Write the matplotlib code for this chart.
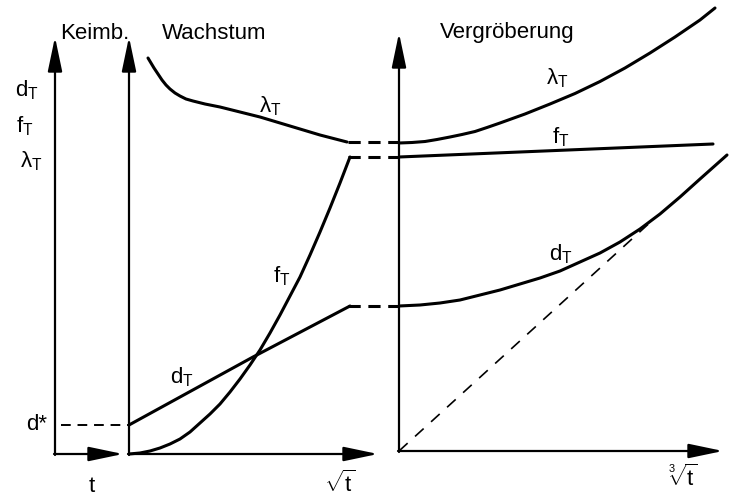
import matplotlib.pyplot as plt
import numpy as np

plt.rcParams['font.family'] = ['Liberation Sans', 'DejaVu Sans']
plt.rcParams['mathtext.fontset'] = 'custom'
plt.rcParams['mathtext.rm'] = 'Liberation Sans'
plt.rcParams['mathtext.it'] = 'Liberation Sans'

# Wachstum: curves in the middle panel
lam_w_x = [148, 151, 154, 158, 162, 166, 170, 175, 180, 186, 193, 205, 220,
           240, 260, 280, 300, 320, 347]
lam_w_y = [58, 63, 68, 74, 80, 85, 89, 93, 96, 99, 101, 104, 107,
           112, 117, 123, 129, 135, 142]
f_w_x = [129, 140, 150, 160, 170, 180, 190, 200, 210, 220, 230, 240, 250,
         260, 270, 280, 290, 300, 310, 320, 330, 340, 350]
f_w_y = [454, 453, 451, 448, 444, 439, 432, 423, 414, 404, 392, 379, 365,
         350, 333, 315, 296, 277, 255, 232, 208, 183, 157]
d_w_x = [129, 253, 350]
d_w_y = [425, 357, 306]

# Vergröberung: curves in the right panel
lam_v_x = [399, 412, 425, 437, 450, 462, 475, 487, 500, 525, 550, 575, 600,
           625, 650, 675, 700, 715]
lam_v_y = [143, 142.5, 141.5, 139.5, 137, 134.5, 131.5, 127.5, 123, 114, 104,
           93.5, 81.5, 68, 53, 37, 20, 8]
f_v_x = [399, 713]
f_v_y = [157, 144]
d_v_x = [399, 420, 440, 460, 480, 500, 520, 540, 560, 580, 600, 620, 640,
         660, 680, 700, 727]
d_v_y = [306, 305, 303, 300, 295, 290, 284, 278, 271, 262, 253, 242, 229,
         214, 197, 179, 155]
asym_x = [399, 655]
asym_y = [451, 218]

# dashed transitions between the two stages
gap_x = [348, 399]
gap_lam = 142
gap_f = 157
gap_d = 306
d_star = 425

fig = plt.figure(figsize=(7.29, 5.01), dpi=100)
ax = fig.add_axes([0, 0, 1, 1])
ax.set_xlim(0, 729)
ax.set_ylim(501, 0)
ax.axis('off')

def arrow(x0, y0, x1, y1):
    ax.annotate('', xy=(x1, y1), xytext=(x0, y0),
                arrowprops=dict(arrowstyle='-|>,head_length=1.05,head_width=0.22',
                                mutation_scale=20, lw=1.6, color='black',
                                shrinkA=0, shrinkB=0))

# axes
arrow(55, 455, 55, 37)
arrow(54, 454, 123, 454)
arrow(129, 455, 129, 37)
arrow(128, 454, 378, 454)
arrow(399, 452, 399, 33)
arrow(398, 451, 723, 451)

lw = 2.2
for xs, ys in [(lam_w_x, lam_w_y), (f_w_x, f_w_y), (d_w_x, d_w_y),
               (lam_v_x, lam_v_y), (f_v_x, f_v_y), (d_v_x, d_v_y)]:
    ax.plot(xs, ys, color='black', lw=lw, solid_joinstyle='round',
            solid_capstyle='round')

for yv in (gap_lam, gap_f, gap_d):
    ax.plot(gap_x, [yv, yv], color='black', lw=lw, dashes=(4, 2.5))
ax.plot(asym_x, asym_y, color='black', lw=1.2, dashes=(7, 6))
ax.plot([61, 128], [d_star, d_star], color='black', lw=1.4, dashes=(5, 3.5))

fs = 16
ax.text(60, 33, 'Keimb.', fontsize=fs, va='center', ha='left')
ax.text(162, 33, 'Wachstum', fontsize=fs, va='center', ha='left')
ax.text(440, 32, 'Vergröberung', fontsize=fs, va='center', ha='left')

ax.text(15, 90, r'd$_\mathrm{T}$', fontsize=fs, va='center', ha='left')
ax.text(16, 126, r'f$_\mathrm{T}$', fontsize=fs, va='center', ha='left')
ax.text(20, 161, r'$\lambda_\mathrm{T}$', fontsize=fs, va='center', ha='left')

ax.text(270, 106, r'$\lambda_\mathrm{T}$', fontsize=fs, va='center', ha='center')
ax.text(282, 276, r'f$_\mathrm{T}$', fontsize=fs, va='center', ha='center')
ax.text(182, 377, r'd$_\mathrm{T}$', fontsize=fs, va='center', ha='center')
ax.text(557, 78, r'$\lambda_\mathrm{T}$', fontsize=fs, va='center', ha='center')
ax.text(561, 137, r'f$_\mathrm{T}$', fontsize=fs, va='center', ha='center')
ax.text(561, 254, r'd$_\mathrm{T}$', fontsize=fs, va='center', ha='center')

ax.text(37, 424, 'd*', fontsize=fs, va='center', ha='center')
ax.text(92, 486, 't', fontsize=fs, va='center', ha='center')
ax.text(340, 484, r'$\sqrt{\mathrm{t}}$', fontsize=fs, va='center', ha='center')
ax.text(683, 478, r'$\sqrt[3]{\mathrm{t}}$', fontsize=fs, va='center', ha='center')

fig.savefig('out.png', dpi=100)
